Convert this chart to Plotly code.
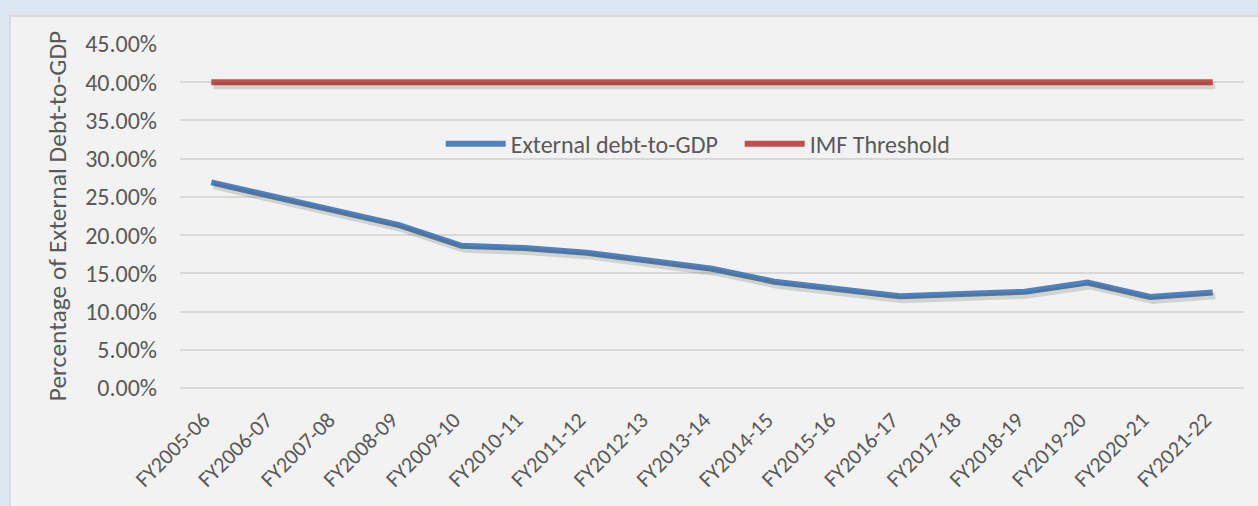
import plotly.graph_objects as go

years = ["FY2005-06", "FY2006-07", "FY2007-08", "FY2008-09", "FY2009-10", "FY2010-11",
         "FY2011-12", "FY2012-13", "FY2013-14", "FY2014-15", "FY2015-16", "FY2016-17",
         "FY2017-18", "FY2018-19", "FY2019-20", "FY2020-21", "FY2021-22"]
debt_to_gdp = [26.9, 25.0, 23.1, 21.3, 18.6, 18.3, 17.7, 16.6, 15.6, 13.9, 12.9, 12.0,
               12.3, 12.6, 13.8, 11.9, 12.5]
imf_threshold = [40.0] * len(years)
y_ticks = [0, 5, 10, 15, 20, 25, 30, 35, 40, 45]
y_tick_text = [f"{v:.2f}%" for v in y_ticks]

FONT = "Carlito, Lato, sans-serif"
TXT = "#595959"

fig = go.Figure()
# subtle drop shadows (same data, drawn on offset overlay axes)
for vals in (debt_to_gdp, imf_threshold):
    fig.add_trace(go.Scatter(x=years, y=vals, mode="lines", xaxis="x2", yaxis="y2",
                             line=dict(color="rgba(70,70,40,0.18)", width=7),
                             showlegend=False, hoverinfo="skip"))
fig.add_trace(go.Scatter(x=years, y=debt_to_gdp, mode="lines", name="External debt-to-GDP",
                         line=dict(color="#4f81bd", width=6)))
fig.add_trace(go.Scatter(x=years, y=imf_threshold, mode="lines", name="IMF Threshold",
                         line=dict(color="#c0504d", width=6)))

# panel background
fig.add_shape(type="rect", xref="paper", yref="paper", x0=-0.1598, x1=1.05, y0=-0.4, y1=1.0814,
              fillcolor="#f2f2f2", line=dict(color="#d9d9d9", width=2), layer="below")
# bottom axis line
fig.add_shape(type="line", xref="paper", yref="paper", x0=0, x1=1, y0=0, y1=0,
              line=dict(color="#d9d9d9", width=2), layer="below")

fig.update_layout(
    width=1258, height=506,
    margin=dict(l=180, r=14, t=44, b=118),
    paper_bgcolor="#dce6f2",
    plot_bgcolor="#ebf1de",
    font=dict(family=FONT, color=TXT, size=24),
    legend=dict(orientation="h", x=0.245, y=0.709, xanchor="left", yanchor="middle",
                bgcolor="rgba(0,0,0,0)", font=dict(size=24, color=TXT),
                itemwidth=60, entrywidth=224, entrywidthmode="pixels"),
    xaxis=dict(type="category", range=[-0.5, 16.5], showgrid=False, tickangle=-45,
               tickvals=years, ticktext=[y + "\u2002" for y in years],
               ticks="", showline=False, tickfont=dict(size=22, color=TXT),
               ticklabelstandoff=6, zeroline=False, automargin=False),
    yaxis=dict(range=[0, 45], tickvals=y_ticks, ticktext=y_tick_text,
               showgrid=True, gridcolor="#d9d9d9", gridwidth=2, zeroline=False,
               showline=False, ticks="", ticklabelstandoff=22, automargin=False,
               tickfont=dict(size=24, color=TXT),
               title=dict(text="Percentage of External Debt-to-GDP", standoff=11,
                          font=dict(size=25.5, color=TXT))),
    xaxis2=dict(type="category", range=[-0.5 - 0.04, 16.5 - 0.04], overlaying="x",
                visible=False, showgrid=False),
    yaxis2=dict(range=[0.45, 45.45], overlaying="y", visible=False, showgrid=False),
    showlegend=True,
)

fig.write_html("out.html", config={"displayModeBar": False},
               post_script="document.body.style.margin='0';document.body.style.overflow='hidden';")
